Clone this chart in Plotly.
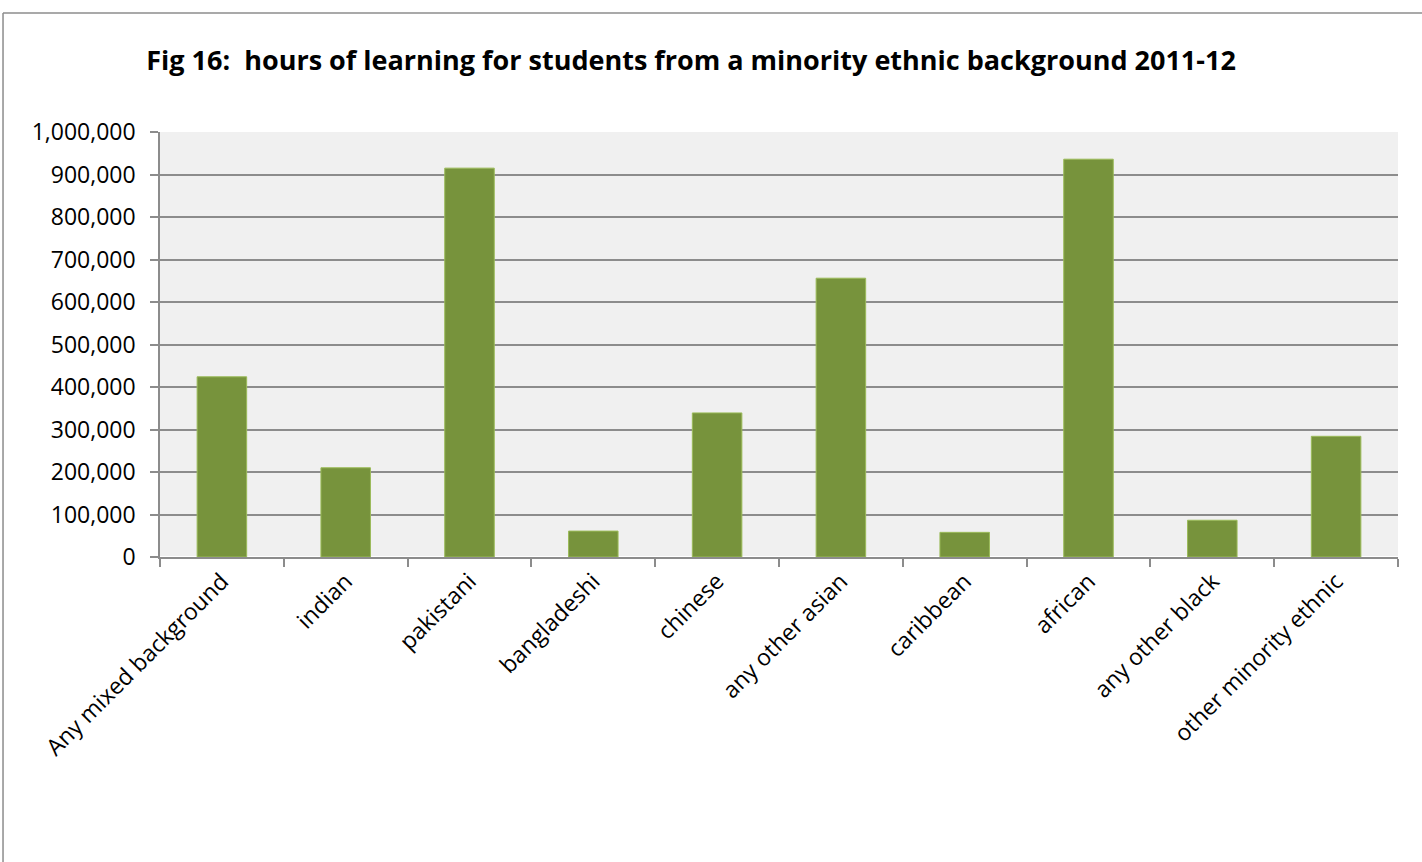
import plotly.graph_objects as go

categories = ['Any mixed background', 'indian', 'pakistani', 'bangladeshi', 'chinese',
              'any other asian', 'caribbean', 'african', 'any other black',
              'other minority ethnic']
hours = [424000, 210000, 915000, 61000, 339000, 656000, 58000, 936000, 86500, 284000]
y_ticks = [0, 100000, 200000, 300000, 400000, 500000, 600000, 700000, 800000, 900000, 1000000]
y_labels = ['0'] + [f'{v:,}' for v in y_ticks[1:]]

fig = go.Figure()
fig.add_trace(go.Bar(
    x=categories,
    y=hours,
    marker=dict(color='#77933C', line=dict(color='#9BBB59', width=1)),
    hovertemplate='%{x}: %{y:,}<extra></extra>',
))

# outer chart frame (only left and top edges are visible in the original)
fig.add_shape(type='line', xref='paper', yref='paper', x0=-0.1268, x1=1.1, y0=1.28, y1=1.28,
              line=dict(color='#8c8c8c', width=1.5))
fig.add_shape(type='line', xref='paper', yref='paper', x0=-0.1268, x1=-0.1268, y0=-1.0, y1=1.28,
              line=dict(color='#8c8c8c', width=1.5))

fig.update_layout(
    width=1422, height=862,
    margin=dict(l=160, r=24, t=132, b=305),
    paper_bgcolor='white',
    plot_bgcolor='#f0f0f0',
    bargap=0.6,
    showlegend=False,
    font=dict(family='Open Sans, sans-serif', color='black'),
    title=dict(
        text='<b>Fig 16:  hours of learning for students from a minority ethnic background 2011-12</b>',
        x=0.486, xanchor='center', y=0.93, yanchor='middle',
        font=dict(family='Open Sans, sans-serif', size=27, color='black'),
    ),
    xaxis=dict(
        type='category',
        tickson='boundaries',
        ticks='outside', ticklen=8, tickcolor='#8c8c8c', tickwidth=1.5,
        showline=True, linecolor='#8c8c8c', linewidth=1.5,
        showgrid=False,
        tickangle=-45,
        tickfont=dict(size=23),
    ),
    yaxis=dict(
        range=[0, 1000000],
        tickvals=y_ticks, ticktext=y_labels,
        ticks='outside', ticklen=8, tickcolor='#8c8c8c', tickwidth=1.5,
        showline=True, linecolor='#8c8c8c', linewidth=1.5,
        showgrid=True, gridcolor='#8c8c8c', gridwidth=1.5,
        tickfont=dict(size=23),
        ticklabelstandoff=10,
    ),
)

fig.write_html('out.html', config={'displayModeBar': False},
               post_script="document.body.style.margin='0';")
